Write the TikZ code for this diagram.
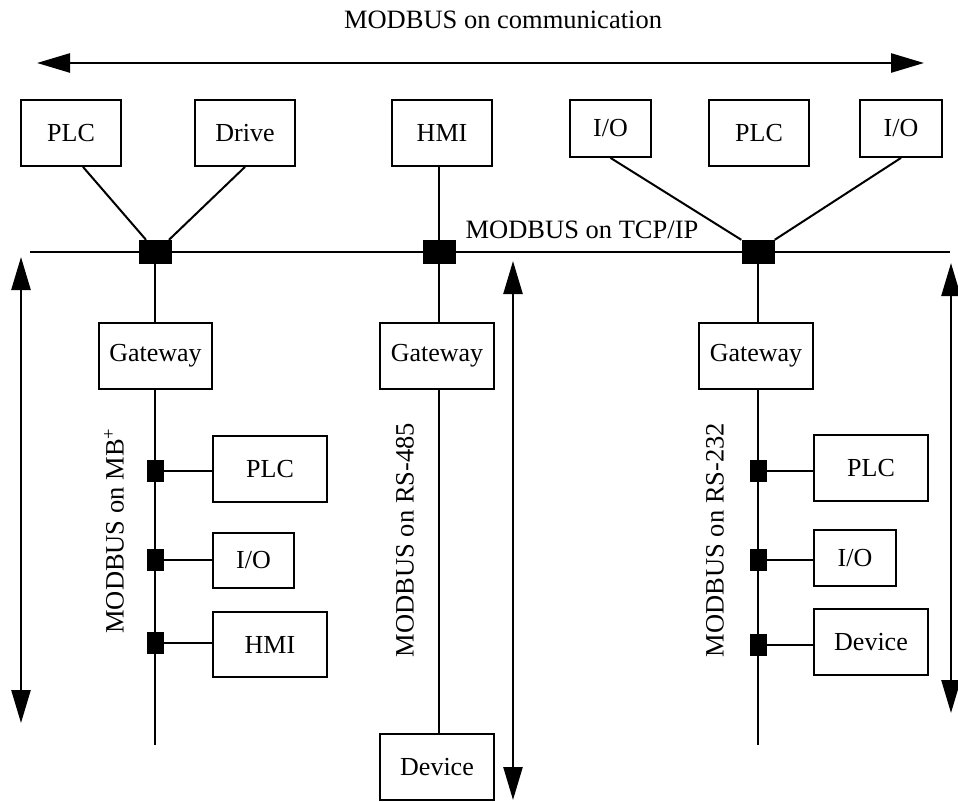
\documentclass[tikz,border=0pt]{standalone}
\usepackage{fontspec}
\setmainfont{Liberation Serif}
\usetikzlibrary{arrows.meta}
\begin{document}
\begin{tikzpicture}[x=1pt,y=-1pt,
  txt/.style={font=\fontsize{26.5}{30}\selectfont, inner sep=0pt},
  box/.style={draw, line width=1.8pt, inner sep=0pt, font=\fontsize{26}{30}\selectfont},
  bigj/.style={fill=black, inner sep=0pt, minimum width=33pt, minimum height=24pt},
  smallj/.style={fill=black, inner sep=0pt, minimum width=17pt, minimum height=22pt},
  wire/.style={line width=2pt},
  big arrow/.style={line width=2.5pt, {Triangle[length=33pt,width=19pt]}-{Triangle[length=33pt,width=19pt]}}
]
\useasboundingbox (0,0) rectangle (958,802);

% title and top arrow
\node[txt] (title) at (503,20) {MODBUS on communication};
\coordinate (topL) at (37,63);
\coordinate (topR) at (924,63);
\draw[big arrow] (topL) -- (topR);

% top devices
\node[box, minimum width=100pt, minimum height=66pt] (plc1) at (71,133) {PLC};
\node[box, minimum width=100pt, minimum height=66pt] (drive) at (245,133) {Drive};
\node[box, minimum width=100pt, minimum height=66pt] (hmi1) at (442,133) {HMI};
\node[box, minimum width=81pt, minimum height=57pt] (io1) at (610.5,128.5) {I/O};
\node[box, minimum width=100pt, minimum height=66pt] (plc2) at (759,133) {PLC};
\node[box, minimum width=82pt, minimum height=57pt] (io2) at (901,128.5) {I/O};

% TCP/IP bus
\coordinate (busL) at (30,252);
\coordinate (busR) at (950,252);
\draw[wire] (busL) -- (busR);
\node[txt] (tcp) at (582,230) {MODBUS on TCP/IP};

\node[bigj] (j1) at (155,252) {};
\node[bigj] (j2) at (439,252) {};
\node[bigj] (j3) at (758,252) {};

\draw[wire] ([xshift=12pt]plc1.south) -- ([xshift=-9pt]j1.north);
\draw[wire] (drive.south) -- ([xshift=14pt]j1.north);
\draw[wire] (j2 |- hmi1.south) -- (j2.north);
\draw[wire] (io1.south) -- (j3.north west);
\draw[wire] (io2.south) -- (j3.north east);

% gateways
\node[box, minimum width=113pt, minimum height=66pt] (gw1) at (155.5,356) {Gateway};
\node[box, minimum width=114pt, minimum height=66pt] (gw2) at (437,356) {Gateway};
\node[box, minimum width=114pt, minimum height=66pt] (gw3) at (756,356) {Gateway};

\draw[wire] (j1.south) -- (j1 |- gw1.north);
\draw[wire] (j2.south) -- (j2 |- gw2.north);
\draw[wire] (j3.south) -- (j3 |- gw3.north);

% left branch: MB+
\coordinate (end1) at (155,745);
\draw[wire] (j1 |- gw1.south) -- (end1);
\node[txt, rotate=90] (lbl1) at (114,531) {MODBUS on MB\textsuperscript{+}};
\node[box, minimum width=114pt, minimum height=66pt] (lplc) at (270,469) {PLC};
\node[box, minimum width=81pt, minimum height=55pt] (lio) at (253.5,560.5) {I/O};
\node[box, minimum width=114pt, minimum height=65pt] (lhmi) at (270,644.5) {HMI};
\node[smallj] (lj1) at (155,471) {};
\node[smallj] (lj2) at (155,560) {};
\node[smallj] (lj3) at (155,643) {};
\draw[wire] (lj1) -- (lj1 -| lplc.west);
\draw[wire] (lj2) -- (lj2 -| lio.west);
\draw[wire] (lj3) -- (lj3 -| lhmi.west);

% middle branch: RS-485
\node[box, minimum width=114pt, minimum height=66pt] (dev1) at (437,767) {Device};
\draw[wire] (j2 |- gw2.south) -- (j2 |- dev1.north);
\node[txt, rotate=90] (lbl2) at (405,540) {MODBUS on RS-485};

% right branch: RS-232
\coordinate (end3) at (758,745);
\draw[wire] (j3 |- gw3.south) -- (end3);
\node[txt, rotate=90] (lbl3) at (715,540) {MODBUS on RS-232};
\node[box, minimum width=114pt, minimum height=66pt] (rplc) at (871,468) {PLC};
\node[box, minimum width=82pt, minimum height=56pt] (rio) at (855,558) {I/O};
\node[box, minimum width=114pt, minimum height=66pt] (rdev) at (871,642) {Device};
\node[smallj] (rj1) at (758,471) {};
\node[smallj] (rj2) at (758,560) {};
\node[smallj] (rj3) at (758,645) {};
\draw[wire] (rj1) -- (rj1 -| rplc.west);
\draw[wire] (rj2) -- (rj2 -| rio.west);
\draw[wire] (rj3) -- (rj3 -| rdev.west);

% vertical arrows
\coordinate (va1t) at (21,257);
\coordinate (va1b) at (21,723);
\draw[big arrow] (va1t) -- (va1b);
\coordinate (va2t) at (513,261);
\coordinate (va2b) at (513,800);
\draw[big arrow] (va2t) -- (va2b);
\coordinate (va3t) at (951,263);
\coordinate (va3b) at (951,713);
\draw[big arrow] (va3t) -- (va3b);
\end{tikzpicture}
\end{document}
